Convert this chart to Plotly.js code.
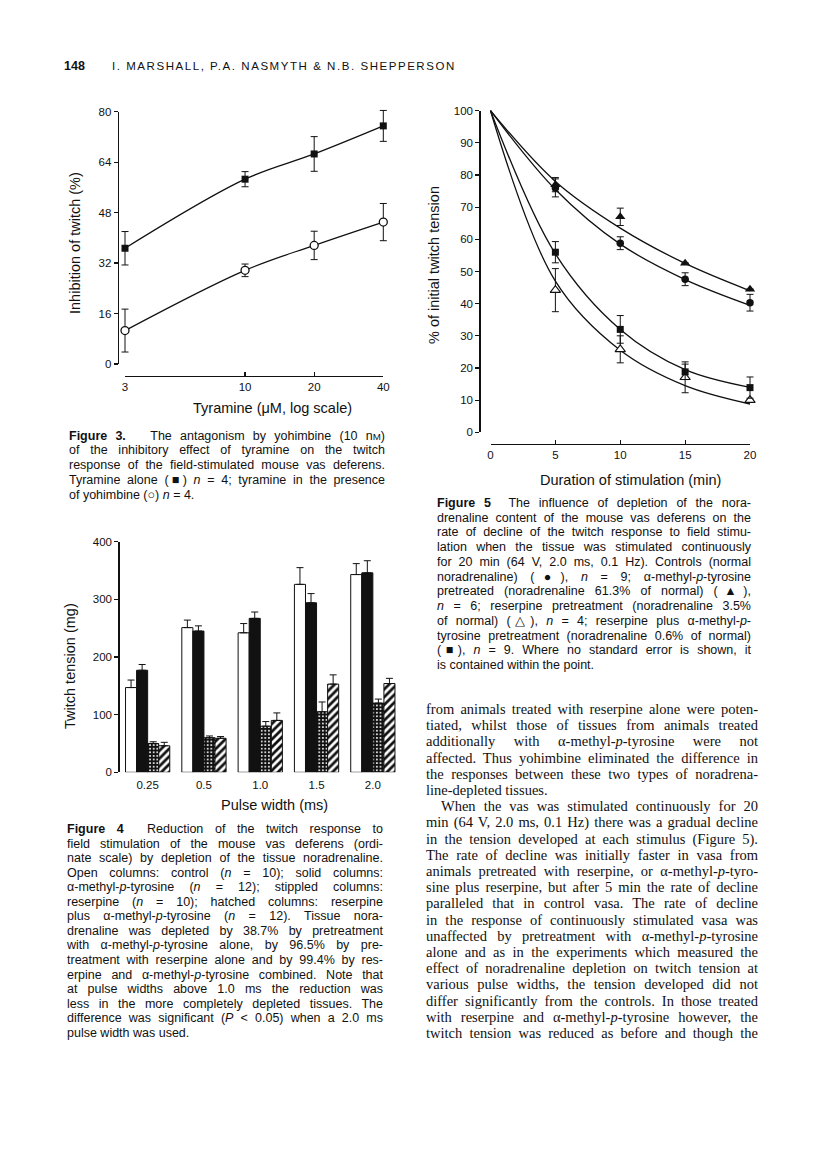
<!DOCTYPE html>
<html>
<head>
<meta charset="utf-8">
<script src="https://cdn.plot.ly/plotly-3.0.1.min.js"></script>
<style>
html,body{margin:0;padding:0;background:#fff;}
#page{position:relative;width:816px;height:1149px;overflow:hidden;background:#fff;}
#chart{position:absolute;left:0;top:0;width:816px;height:1149px;}
.ln{position:absolute;color:#111;white-space:normal;text-align:justify;text-align-last:justify;}
.ln.last{text-align-last:left;}
.cap{font-family:"Liberation Sans",Arial,sans-serif;font-size:12.5px;}
.body{font-family:"Liberation Serif","Times New Roman",serif;font-size:14.5px;}
.sc{font-size:78%;}
.hdr{position:absolute;color:#111;font-family:"Liberation Sans",Arial,sans-serif;white-space:nowrap;}
</style>
</head>
<body>
<div id="page">
  <div id="chart"></div>
</div>
<script>
// ---------------- DATA ----------------
// Figure 3: tyramine concentration (µM) vs inhibition of twitch (%)
const tyrConc = [3, 10, 20, 40];
const tyrAlone = [36.7, 58.6, 66.6, 75.5];
const tyrAloneErr = [5.3, 2.4, 5.5, 4.9];
const tyrYoh = [10.6, 29.7, 37.6, 45.0];
const tyrYohErr = [6.8, 2.0, 4.5, 5.9];
const fig3XTicks = [3, 10, 20, 40];

// Figure 4: pulse width vs twitch tension (mg)
const pulseLabels = ['0.25', '0.5', '1.0', '1.5', '2.0'];
const controlBars = [147, 251, 242, 326, 343];
const controlErr = [13, 13, 16, 29, 19];
const amptBars = [177, 245, 267, 294, 346];
const amptBarsErr = [10, 9, 11, 16, 21];
const reserpBars = [50, 60, 80, 105, 120];
const reserpBarsErr = [3, 3, 8, 17, 7];
const combBars = [46, 59, 90, 153, 154];
const combBarsErr = [6, 3, 13, 16, 9];
const noErr = [0, 0, 0, 0, 0];

// Figure 5: duration of stimulation (min) vs % of initial twitch tension
const curveTime = [0, 5, 10, 15, 20];
const ctrlCurve = [100, 75.5, 58.5, 47.5, 39.5];
const amptCurve = [100, 78, 63.5, 52.5, 44];
const reserpCurve = [100, 47, 25.5, 14.5, 8.8];
const combCurve = [100, 55.5, 32, 19.5, 14];
const pointTime = [5, 10, 15, 20];
const ctrlMean = [76, 58.8, 47.6, 40.3];
const ctrlErr = [2.8, 2.0, 2.0, 2.6];
const amptMean = [77, 67, 52.6, 44.5];
const amptErr = [2.2, 2.7, 0, 0];
const reserpMean = [44.2, 25.8, 17.1, 10];
const reserpErr = [6.7, 4.2, 4.8, 0];
const combMean = [56, 32, 18.8, 13.9];
const combErr = [3.3, 4.3, 2.4, 3.3];

// ---------------- GEOMETRY HELPERS ----------------
const W = 816, H = 1149;
const fx = px => px / W;
const fy = py => 1 - py / H;
const INK = '#111';
const FONT = '"Liberation Sans", Arial, sans-serif';
const PAD = 10; // px of room around data areas so edge markers / error caps are not clipped

// visible axis frames (pixel positions)
const f3 = {x0: 125, x1: 383.3, y0: 364, y1: 111.7, xr: [Math.log10(3), Math.log10(40)], yr: [0, 80]};
const f5 = {x0: 490.5, x1: 750, y0: 432.3, y1: 110.7, xr: [0, 20], yr: [0, 100]};

function padRange(r, p0, p1) {
  const k = Math.abs((r[1] - r[0]) / (p1 - p0));
  return [r[0] - PAD * k, r[1] + PAD * k];
}

function errBar(arr, sym) {
  const e = {type: 'data', array: arr, color: INK, thickness: 1, width: 3.5, visible: true};
  if (sym === false) { e.symmetric = false; e.arrayminus = noErr; }
  return e;
}

const traces = [];
// Figure 3
traces.push({x: tyrConc, y: tyrAlone, xaxis: 'x', yaxis: 'y', mode: 'lines+markers', cliponaxis: false,
  line: {color: INK, width: 1.3, shape: 'spline'},
  marker: {symbol: 'square', size: 7, color: INK},
  error_y: errBar(tyrAloneErr), name: 'Tyramine alone', showlegend: false});
traces.push({x: tyrConc, y: tyrYoh, xaxis: 'x', yaxis: 'y', mode: 'lines+markers', cliponaxis: false,
  line: {color: INK, width: 1.3, shape: 'spline'},
  marker: {symbol: 'circle', size: 8, color: '#fff', line: {color: INK, width: 1.3}},
  error_y: errBar(tyrYohErr), name: 'Tyramine + yohimbine', showlegend: false});
// carrier for the visible Figure 3 axes (fully transparent)
traces.push({x: tyrConc, y: tyrAlone, xaxis: 'x4', yaxis: 'y4', mode: 'markers',
  marker: {opacity: 0, size: 1}, hoverinfo: 'skip', showlegend: false});

// Figure 4
const barLine = {color: INK, width: 1};
traces.push({type: 'bar', x: pulseLabels, y: controlBars, xaxis: 'x3', yaxis: 'y3', name: 'Control',
  marker: {color: '#fff', line: barLine}, error_y: errBar(controlErr, false), showlegend: false});
traces.push({type: 'bar', x: pulseLabels, y: amptBars, xaxis: 'x3', yaxis: 'y3', name: 'α-methyl-p-tyrosine',
  marker: {color: INK, line: barLine}, error_y: errBar(amptBarsErr, false), showlegend: false});
traces.push({type: 'bar', x: pulseLabels, y: reserpBars, xaxis: 'x3', yaxis: 'y3', name: 'Reserpine',
  marker: {color: INK, line: barLine, pattern: {shape: '.', fgcolor: '#fff', bgcolor: INK, size: 3.6, solidity: 0.24}},
  error_y: errBar(reserpBarsErr, false), showlegend: false});
traces.push({type: 'bar', x: pulseLabels, y: combBars, xaxis: 'x3', yaxis: 'y3', name: 'Reserpine + α-methyl-p-tyrosine',
  marker: {color: '#fff', line: barLine, pattern: {shape: '/', fgcolor: INK, bgcolor: '#fff', size: 5.5, solidity: 0.5}},
  error_y: errBar(combBarsErr, false), showlegend: false});

// Figure 5 fitted curves
[amptCurve, ctrlCurve, combCurve, reserpCurve].forEach(c => {
  traces.push({x: curveTime, y: c, xaxis: 'x2', yaxis: 'y2', mode: 'lines',
    line: {color: INK, width: 1.3, shape: 'spline'}, showlegend: false, hoverinfo: 'skip'});
});
// Figure 5 points
traces.push({x: pointTime, y: ctrlMean, xaxis: 'x2', yaxis: 'y2', mode: 'markers', cliponaxis: false,
  marker: {symbol: 'circle', size: 7.5, color: INK}, error_y: errBar(ctrlErr), name: 'Controls', showlegend: false});
traces.push({x: pointTime, y: amptMean, xaxis: 'x2', yaxis: 'y2', mode: 'markers', cliponaxis: false,
  marker: {symbol: 'triangle-up', size: 9, color: INK}, error_y: errBar(amptErr), name: 'α-methyl-p-tyrosine', showlegend: false});
traces.push({x: pointTime, y: reserpMean, xaxis: 'x2', yaxis: 'y2', mode: 'markers', cliponaxis: false,
  marker: {symbol: 'triangle-up', size: 9, color: '#fff', line: {color: INK, width: 1.1}}, error_y: errBar(reserpErr), name: 'Reserpine', showlegend: false});
traces.push({x: pointTime, y: combMean, xaxis: 'x2', yaxis: 'y2', mode: 'markers', cliponaxis: false,
  marker: {symbol: 'square', size: 7, color: INK}, error_y: errBar(combErr), name: 'Reserpine + α-methyl-p-tyrosine', showlegend: false});
// carrier for the visible Figure 5 axes (fully transparent)
traces.push({x: pointTime, y: ctrlMean, xaxis: 'x5', yaxis: 'y5', mode: 'markers',
  marker: {opacity: 0, size: 1}, hoverinfo: 'skip', showlegend: false});

const axBase = {showgrid: false, zeroline: false, showline: true, linecolor: INK, linewidth: 1.2,
  ticks: 'outside', ticklen: 4, tickwidth: 1.2, tickcolor: INK, fixedrange: true,
  tickfont: {family: FONT, size: 11.5, color: INK}};
const hiddenAx = {visible: false, showgrid: false, zeroline: false, fixedrange: true};

function titleAnn(text, px, py, rot) {
  return {text: text, x: fx(px), y: fy(py), xref: 'paper', yref: 'paper', showarrow: false,
    xanchor: 'center', yanchor: 'middle', textangle: rot || 0,
    font: {family: FONT, size: 14.5, color: INK}};
}

const layout = {
  width: W, height: H, margin: {l: 0, r: 0, t: 0, b: 0},
  paper_bgcolor: '#fff', plot_bgcolor: 'rgba(0,0,0,0)', showlegend: false,
  barmode: 'group', bargap: 0.214, bargroupgap: 0,
  // Figure 3 data axes (hidden, padded so that edge points are fully drawn)
  xaxis: Object.assign({}, hiddenAx, {type: 'log', range: padRange(f3.xr, f3.x0, f3.x1),
    domain: [fx(f3.x0 - PAD), fx(f3.x1 + PAD)], anchor: 'y'}),
  yaxis: Object.assign({}, hiddenAx, {range: padRange(f3.yr, f3.y0, f3.y1),
    domain: [fy(f3.y0 + PAD), fy(f3.y1 - PAD)], anchor: 'x'}),
  // Figure 3 visible axes
  xaxis4: Object.assign({}, axBase, {type: 'log', range: f3.xr, domain: [fx(f3.x0), fx(f3.x1)],
    anchor: 'free', position: fy(376), ticks: 'inside', tickvals: fig3XTicks, ticktext: fig3XTicks.map(String)}),
  yaxis4: Object.assign({}, axBase, {range: f3.yr, dtick: 16, domain: [fy(f3.y0), fy(f3.y1)],
    anchor: 'free', position: fx(117.7)}),
  // Figure 5 data axes (hidden)
  xaxis2: Object.assign({}, hiddenAx, {range: padRange(f5.xr, f5.x0, f5.x1),
    domain: [fx(f5.x0 - PAD), fx(f5.x1 + PAD)], anchor: 'y2'}),
  yaxis2: Object.assign({}, hiddenAx, {range: padRange(f5.yr, f5.y0, f5.y1),
    domain: [fy(f5.y0 + PAD), fy(f5.y1 - PAD)], anchor: 'x2'}),
  // Figure 5 visible axes
  xaxis5: Object.assign({}, axBase, {range: f5.xr, dtick: 5, domain: [fx(f5.x0), fx(f5.x1)],
    anchor: 'free', position: fy(444), ticks: 'inside'}),
  yaxis5: Object.assign({}, axBase, {range: f5.yr, dtick: 10, domain: [fy(f5.y0), fy(f5.y1)],
    anchor: 'free', position: fx(479.3)}),
  // Figure 4
  xaxis3: Object.assign({}, axBase, {type: 'category', domain: [fx(119.5), fx(401)], anchor: 'y3',
    showline: false, ticks: 'outside', tickcolor: 'rgba(0,0,0,0)', ticklen: 2}),
  yaxis3: Object.assign({}, axBase, {range: [0, 400], dtick: 100, domain: [fy(772.3), fy(541.7)],
    anchor: 'free', position: fx(118.3)}),
  annotations: [
    titleAnn('Inhibition of twitch (%)', 75, 243, -90),
    titleAnn('Tyramine (μM, log scale)', 272, 408),
    titleAnn('% of initial twitch tension', 434, 265, -90),
    titleAnn('Duration of stimulation (min)', 630, 480),
    titleAnn('Twitch tension (mg)', 70, 666, -90),
    titleAnn('Pulse width (ms)', 274, 805)
  ]
};

Plotly.newPlot('chart', traces, layout, {displayModeBar: false, staticPlot: true});

// ---------------- PAGE TEXT ----------------
const fig3Caption = [
  '<b>Figure 3.</b>&nbsp;&nbsp; The antagonism by yohimbine (10 n<span class="sc">M</span>)',
  'of the inhibitory effect of tyramine on the twitch',
  'response of the field-stimulated mouse vas deferens.',
  'Tyramine alone (&#9632;) <i>n</i> = 4; tyramine in the presence',
  'of yohimbine (&#9675;) <i>n</i> = 4.'
];
const fig4Caption = [
  '<b>Figure 4</b>&nbsp; Reduction of the twitch response to',
  'field stimulation of the mouse vas deferens (ordi-',
  'nate scale) by depletion of the tissue noradrenaline.',
  'Open columns: control (<i>n</i> = 10); solid columns:',
  'α-methyl-<i>p</i>-tyrosine (<i>n</i> = 12); stippled columns:',
  'reserpine (<i>n</i> = 10); hatched columns: reserpine',
  'plus α-methyl-<i>p</i>-tyrosine (<i>n</i> = 12). Tissue nora-',
  'drenaline was depleted by 38.7% by pretreatment',
  'with α-methyl-<i>p</i>-tyrosine alone, by 96.5% by pre-',
  'treatment with reserpine alone and by 99.4% by res-',
  'erpine and α-methyl-<i>p</i>-tyrosine combined. Note that',
  'at pulse widths above 1.0 ms the reduction was',
  'less in the more completely depleted tissues. The',
  'difference was significant (<i>P</i> &lt; 0.05) when a 2.0 ms',
  'pulse width was used.'
];
const fig5Caption = [
  '<b>Figure 5</b>&nbsp; The influence of depletion of the nora-',
  'drenaline content of the mouse vas deferens on the',
  'rate of decline of the twitch response to field stimu-',
  'lation when the tissue was stimulated continuously',
  'for 20 min (64 V, 2.0 ms, 0.1 Hz). Controls (normal',
  'noradrenaline) (&#9679;), <i>n</i> = 9; α-methyl-<i>p</i>-tyrosine',
  'pretreated (noradrenaline 61.3% of normal) (&#9650;),',
  '<i>n</i> = 6; reserpine pretreatment (noradrenaline 3.5%',
  'of normal) (&#9651;), <i>n</i> = 4; reserpine plus α-methyl-<i>p</i>-',
  'tyrosine pretreatment (noradrenaline 0.6% of normal)',
  '(&#9632;), <i>n</i> = 9. Where no standard error is shown, it',
  'is contained within the point.'
];
const bodyLines = [
  'from animals treated with reserpine alone were poten-',
  'tiated, whilst those of tissues from animals treated',
  'additionally with α-methyl-<i>p</i>-tyrosine were not',
  'affected. Thus yohimbine eliminated the difference in',
  'the responses between these two types of noradrena-',
  'line-depleted tissues.',
  'When the vas was stimulated continuously for 20',
  'min (64 V, 2.0 ms, 0.1 Hz) there was a gradual decline',
  'in the tension developed at each stimulus (Figure 5).',
  'The rate of decline was initially faster in vasa from',
  'animals pretreated with reserpine, or α-methyl-<i>p</i>-tyro-',
  'sine plus reserpine, but after 5 min the rate of decline',
  'paralleled that in control vasa. The rate of decline',
  'in the response of continuously stimulated vasa was',
  'unaffected by pretreatment with α-methyl-<i>p</i>-tyrosine',
  'alone and as in the experiments which measured the',
  'effect of noradrenaline depletion on twitch tension at',
  'various pulse widths, the tension developed did not',
  'differ significantly from the controls. In those treated',
  'with reserpine and α-methyl-<i>p</i>-tyrosine however, the',
  'twitch tension was reduced as before and though the'
];

const page = document.getElementById('page');
function block(lines, o) {
  lines.forEach((html, i) => {
    const d = document.createElement('div');
    d.className = 'ln ' + o.cls + ((o.last || []).includes(i) ? ' last' : '');
    d.style.left = o.left + 'px';
    d.style.width = o.width + 'px';
    d.style.top = (o.top + i * o.lh - o.lh / 2) + 'px';
    d.style.lineHeight = o.lh + 'px';
    if (o.indent && o.indent[i]) d.style.textIndent = o.indent[i] + 'px';
    d.innerHTML = html;
    page.appendChild(d);
  });
}
block(fig3Caption, {cls: 'cap', left: 69, width: 316, top: 436, lh: 14.8, last: [4]});
block(fig4Caption, {cls: 'cap', left: 67, width: 316, top: 829.3, lh: 14.55, last: [14]});
block(fig5Caption, {cls: 'cap', left: 437, width: 314, top: 503.3, lh: 14.73, last: [11]});
block(bodyLines, {cls: 'body', left: 426, width: 332, top: 709, lh: 16.2, last: [5], indent: {6: 15}});

const h1 = document.createElement('div');
h1.className = 'hdr';
h1.style.cssText = 'left:64px;top:58px;font-size:12.5px;font-weight:bold;line-height:16px;';
h1.textContent = '148';
page.appendChild(h1);
const h2 = document.createElement('div');
h2.className = 'hdr';
h2.style.cssText = 'left:112px;top:58px;font-size:11.5px;letter-spacing:1.55px;line-height:16px;';
h2.textContent = 'I. MARSHALL, P.A. NASMYTH & N.B. SHEPPERSON';
page.appendChild(h2);
</script>
</body>
</html>
